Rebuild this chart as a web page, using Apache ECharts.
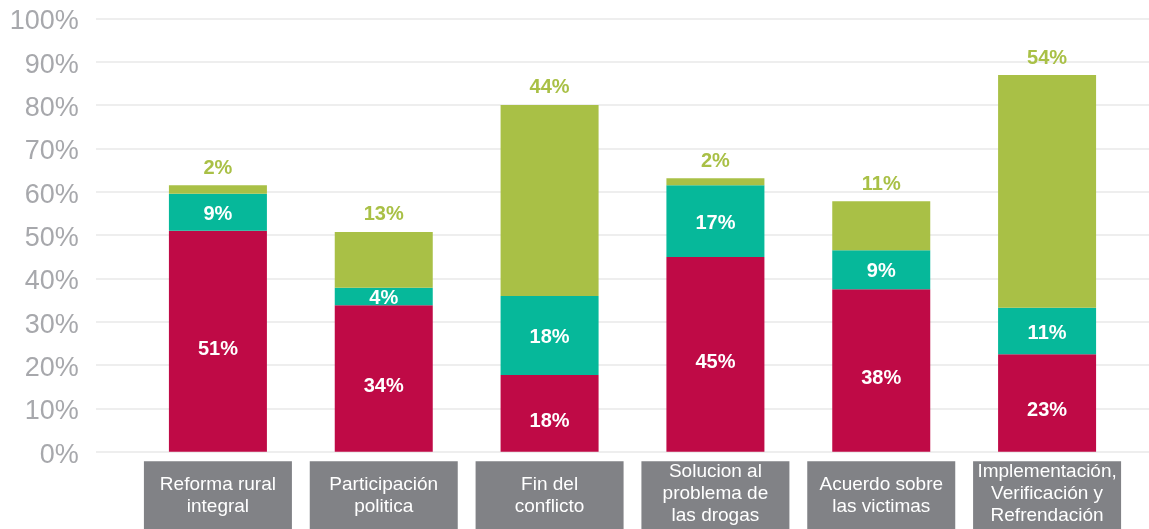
<!DOCTYPE html>
<html>
<head>
<meta charset="utf-8">
<script src="https://cdn.jsdelivr.net/npm/echarts@6/dist/echarts.min.js"></script>
<style>
html,body{margin:0;padding:0;background:#fff;}
#chart{width:1149px;height:529px;}
</style>
</head>
<body>
<div id="chart"></div>
<script>
var categories = [
  'Reforma rural\nintegral',
  'Participación\npolitica',
  'Fin del\nconflicto',
  'Solucion al\nproblema de\nlas drogas',
  'Acuerdo sobre\nlas victimas',
  'Implementación,\nVerificación y\nRefrendación'
];
var redValues = [51, 33.8, 17.7, 44.9, 37.5, 22.5];
var tealValues = [8.5, 4, 18.2, 16.6, 9, 10.7];
var greenValues = [2, 12.9, 44.1, 1.6, 11.3, 53.7];

var FONT = '"Liberation Sans", Arial, Helvetica, sans-serif';
var pct = function (p) { return Math.round(p.value) + '%'; };

var chart = echarts.init(document.getElementById('chart'), null, {renderer: 'canvas'});
chart.setOption({
  animation: false,
  backgroundColor: '#ffffff',
  grid: [
    {left: 96, right: 0, top: 18.3, bottom: 77.3, containLabel: false, outerBoundsMode: 'none'},
    {left: 135, right: 19, top: 18.3, bottom: 77.3, containLabel: false, outerBoundsMode: 'none'}
  ],
  xAxis: [
    {gridIndex: 0, type: 'value', show: false, min: 0, max: 1},
    {
      gridIndex: 1, type: 'category', data: categories,
      axisLine: {show: false}, axisTick: {show: false},
      axisLabel: {
        interval: 0, margin: 9.5,
        backgroundColor: '#818286',
        width: 148,
        formatter: function (v) {
          var lines = v.split('\n');
          var out = lines.map(function (l) { return '{t|' + l + '}'; });
          if (lines.length === 2) {
            return '{p| }\n' + out.join('\n') + '\n{p| }';
          }
          return out.join('\n') + '\n{q| }';
        },
        rich: {
          t: {color: '#ffffff', fontSize: 19, lineHeight: 22, fontFamily: FONT, align: 'center'},
          p: {fontSize: 10, lineHeight: 13, align: 'center'},
          q: {fontSize: 6, lineHeight: 8, align: 'center'}
        }
      }
    }
  ],
  yAxis: [
    {
      gridIndex: 0, type: 'value', min: 0, max: 100, interval: 10,
      axisLine: {show: false}, axisTick: {show: false},
      axisLabel: {
        margin: 17,
        formatter: function (v) { return '{v|' + v + '%}{s| }'; },
        rich: {
          v: {color: '#A7A8AC', fontSize: 27, fontFamily: FONT, lineHeight: 27, verticalAlign: 'bottom'},
          s: {fontSize: 1, lineHeight: 34}
        }
      },
      splitLine: {lineStyle: {color: '#E8E8E8', width: 1.5}}
    },
    {
      gridIndex: 1, type: 'value', min: 0, max: 100, interval: 10, show: false,
      splitLine: {show: false}
    }
  ],
  series: [
    {
      type: 'bar', xAxisIndex: 1, yAxisIndex: 1, stack: 'a', barWidth: 98,
      data: redValues, itemStyle: {color: '#BF0A46'},
      label: {show: true, position: 'inside', offset: [0, 8], formatter: pct, color: '#ffffff', fontSize: 20, fontWeight: 'bold', fontFamily: FONT}
    },
    {
      type: 'bar', xAxisIndex: 1, yAxisIndex: 1, stack: 'a', barWidth: 98,
      data: tealValues, itemStyle: {color: '#06B89A'},
      label: {show: true, position: 'inside', offset: [0, 2], formatter: pct, color: '#ffffff', fontSize: 20, fontWeight: 'bold', fontFamily: FONT}
    },
    {
      type: 'bar', xAxisIndex: 1, yAxisIndex: 1, stack: 'a', barWidth: 98,
      data: greenValues, itemStyle: {color: '#A9C046'},
      label: {show: true, position: 'top', distance: 7, formatter: pct, color: '#A9C046', fontSize: 20, fontWeight: 'bold', fontFamily: FONT}
    }
  ]
});
</script>
</body>
</html>
